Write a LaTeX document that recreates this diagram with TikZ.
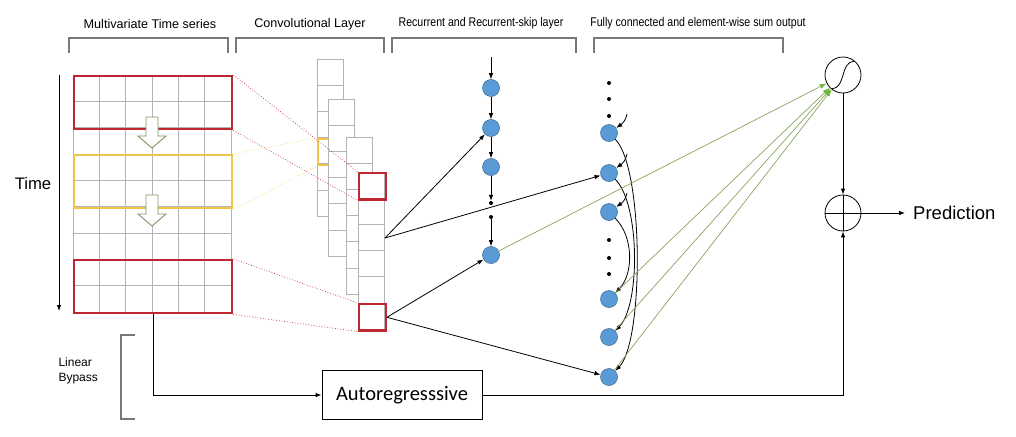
\documentclass[tikz,border=0pt]{standalone}
\usepackage{fontspec}
\usepackage{graphicx}
\setmainfont{Liberation Sans}
\newfontfamily\calibri{Carlito}
\usetikzlibrary{arrows.meta,calc,positioning}
\definecolor{CellGray}{RGB}{180,180,180}
\definecolor{BoxRed}{RGB}{190,40,50}
\definecolor{BoxYellow}{RGB}{240,198,70}
\definecolor{HollowGreen}{RGB}{125,150,100}
\definecolor{LinkGreen}{RGB}{135,165,95}
\definecolor{TipGreen}{RGB}{110,185,60}
\definecolor{NodeBlue}{RGB}{91,155,213}
\definecolor{NodeEdge}{RGB}{65,113,156}
\definecolor{BracketGray}{RGB}{120,120,120}
\newcommand{\narrow}[1]{\scalebox{0.84}[1]{#1}}

\begin{document}
\begin{tikzpicture}[x=1pt,y=-1pt,>={Latex[length=6pt,width=4.5pt]},
    cell/.style={draw=CellGray,line width=0.8pt},
    convcell/.style={draw=CellGray,fill=white,line width=0.8pt},
    redbox/.style={draw=BoxRed,line width=2.4pt,inner sep=0pt,anchor=north west},
    yellowbox/.style={draw=BoxYellow,line width=2.4pt,inner sep=0pt,anchor=north west},
    hollow/.style={draw=HollowGreen,fill=white,line width=0.9pt,line join=miter},
    reddot/.style={draw=BoxRed,dotted,line width=0.7pt},
    yellowdot/.style={draw=BoxYellow!80,dotted,line width=0.7pt},
    unit/.style={circle,draw=NodeEdge,fill=NodeBlue,minimum size=17pt,inner sep=0pt,line width=0.6pt},
    dotnode/.style={circle,fill=black,minimum size=4pt,inner sep=0pt},
    bracket/.style={draw=BracketGray,line width=2.5pt},
    heading/.style={font=\fontsize{12.6}{15}\selectfont},
    opcircle/.style={circle,draw,minimum size=36pt,inner sep=0pt,line width=0.8pt},
    link/.style={->,line width=0.8pt},
    fclink/.style={-{Latex[length=7pt,width=5pt,color=TipGreen]},draw=LinkGreen,line width=0.7pt}]
  \useasboundingbox (0,0) rectangle (1016,436);

  % headings and brackets
  \node[heading] (hts) at (150,24) {Multivariate Time series};
  \node[heading] (hconv) at (310,24) {Convolutional Layer};
  \node[heading] (hrnn) at (481,23) {\narrow{Recurrent and Recurrent-skip layer}};
  \node[heading] (hfc) at (698,23) {\narrow{Fully connected and element-wise sum output}};
  \draw[bracket] (69,53) -- (69,38) -- (228,38) -- (228,53);
  \draw[bracket] (236,53) -- (236,38) -- (384,38) -- (384,53);
  \draw[bracket] (392,53) -- (392,38) -- (576,38) -- (576,53);
  \draw[bracket] (594,53) -- (594,38) -- (783,38) -- (783,53);

  % input grid
  \foreach \i in {0,...,6}
    \draw[cell] (73+26.33*\i,75) -- (73+26.33*\i,312);
  \foreach \j in {0,...,9}
    \draw[cell] (73,75+26.33*\j) -- (231,75+26.33*\j);
  \node[redbox,minimum width=158pt,minimum height=53pt] (win1) at (73,75) {};
  \node[yellowbox,minimum width=158pt,minimum height=53pt] (win2) at (73,154) {};
  \node[redbox,minimum width=158pt,minimum height=53pt] (win3) at (73,259) {};
  \foreach \dy in {0,78}
    \draw[hollow] (146,117+\dy) -- (158,117+\dy) -- (158,136+\dy) -- (166,136+\dy)
      -- (152,148+\dy) -- (138,136+\dy) -- (146,136+\dy) -- cycle;

  % time axis
  \coordinate (ttop) at (59,75);
  \coordinate (tbot) at (59,311);
  \draw[link] (ttop) -- (tbot);
  \node[font=\fontsize{16.7}{20}\selectfont] (tlabel) at (33,184) {Time};

  % convolutional layer
  \foreach \r in {0,...,5}
    \draw[convcell] (317,59+26.2*\r) rectangle ++(26.5,26.2);
  \node[yellowbox,minimum width=26.5pt,minimum height=26.2pt] (ky) at (317,137.6) {};
  \foreach \cx/\cy in {328/99,346/137,358/172}
    \foreach \r in {0,...,5}
      \draw[convcell] (\cx,\cy+26.2*\r) rectangle ++(26.5,26.2);
  \node[redbox,minimum width=26.5pt,minimum height=26.2pt] (k1) at (358,172) {};
  \node[redbox,minimum width=26.5pt,minimum height=26.2pt] (k2) at (358,303) {};
  \draw[reddot] (win1.north east) -- (k1.north west);
  \draw[reddot] (win1.south east) -- (k1.south west);
  \draw[reddot] (win3.north east) -- (k2.north west);
  \draw[reddot] (win3.south east) -- (k2.south west);
  \draw[yellowdot] (win2.north east) -- (ky.north west);
  \draw[yellowdot] (win2.south east) -- (ky.south west);
  \coordinate (kout) at (385,238);

  % recurrent layer
  \coordinate (r0) at (491,57);
  \node[unit] (r1) at (491,88) {};
  \node[unit] (r2) at (491,128) {};
  \node[unit] (r3) at (491,167) {};
  \node[dotnode] (rd1) at (491,203) {};
  \node[dotnode] (rd2) at (491,217) {};
  \node[unit] (r4) at (491,255) {};
  \draw[link] (r0) -- (r1);
  \draw[link] (r1) -- (r2);
  \draw[link] (r2) -- (r3);
  \draw[link] (r3) -- (rd1);
  \draw[link] (rd2) -- (r4);

  % recurrent-skip layer
  \foreach \y [count=\n] in {83,99,116,240,258,274}
    \node[dotnode] (sd\n) at (609,\y) {};
  \node[unit] (s1) at (609,133) {};
  \node[unit] (s2) at (609,173) {};
  \node[unit] (s3) at (609,212) {};
  \node[unit] (s4) at (609,299) {};
  \node[unit] (s5) at (609,337) {};
  \node[unit] (s6) at (609,377) {};
  \coordinate (s1-in) at (627,114);
  \coordinate (s2-in) at (627,154);
  \coordinate (s3-in) at (627,193);
  \draw[link] (s1-in) to[out=-100,in=35] (s1);
  \draw[link] (s2-in) to[out=-100,in=35] (s2);
  \draw[link] (s3-in) to[out=-100,in=35] (s3);
  \draw[link] (s1) to[out=-45,in=45,looseness=0.45] (s6);
  \draw[link] (s2) to[out=-45,in=45,looseness=0.6] (s5);
  \draw[link] (s3) to[out=-45,in=45,looseness=0.9] (s4);

  % conv to recurrent
  \draw[link] (kout) -- (r2);
  \draw[link] (kout) -- (s2);
  \draw[link] (k2.east) -- (r4);
  \draw[link] (k2.east) -- (s6);

  % output part
  \node[opcircle] (sig) at (843,75) {};
  \draw[line width=0.8pt] ($(sig)+(-11,13.5)$) .. controls ($(sig)+(3,13.5)$) and ($(sig)+(-3,-13.5)$) .. ($(sig)+(11,-13.5)$);
  \node[opcircle] (sum) at (843,213) {};
  \draw[line width=0.8pt] (sum.north) -- (sum.south) (sum.west) -- (sum.east);
  \draw[fclink] (r4) -- (sig);
  \draw[fclink] (s4) -- (sig);
  \draw[fclink] (s5) -- (sig);
  \draw[fclink] (s6) -- (sig);
  \draw[link] (sig) -- (sum);
  \node[anchor=west,inner xsep=8pt,font=\fontsize{18.5}{22}\selectfont] (pred) at (905,213) {Prediction};
  \draw[link] (sum) -- (pred);

  % linear bypass
  \node[draw,line width=0.8pt,minimum width=160pt,minimum height=49pt,
    font=\calibri\fontsize{20.5}{24}\selectfont] (ar) at (402,395) {Autoregresssive};
  \draw[link] (win3.south) |- (ar);
  \draw[link] (ar) -| (sum);
  \node[anchor=west,align=left,font=\fontsize{12}{15}\selectfont] (lb) at (55,371) {Linear\\Bypass};
  \draw[bracket] (135,335) -- (121,335) -- (121,419) -- (135,419);
\end{tikzpicture}
\end{document}
